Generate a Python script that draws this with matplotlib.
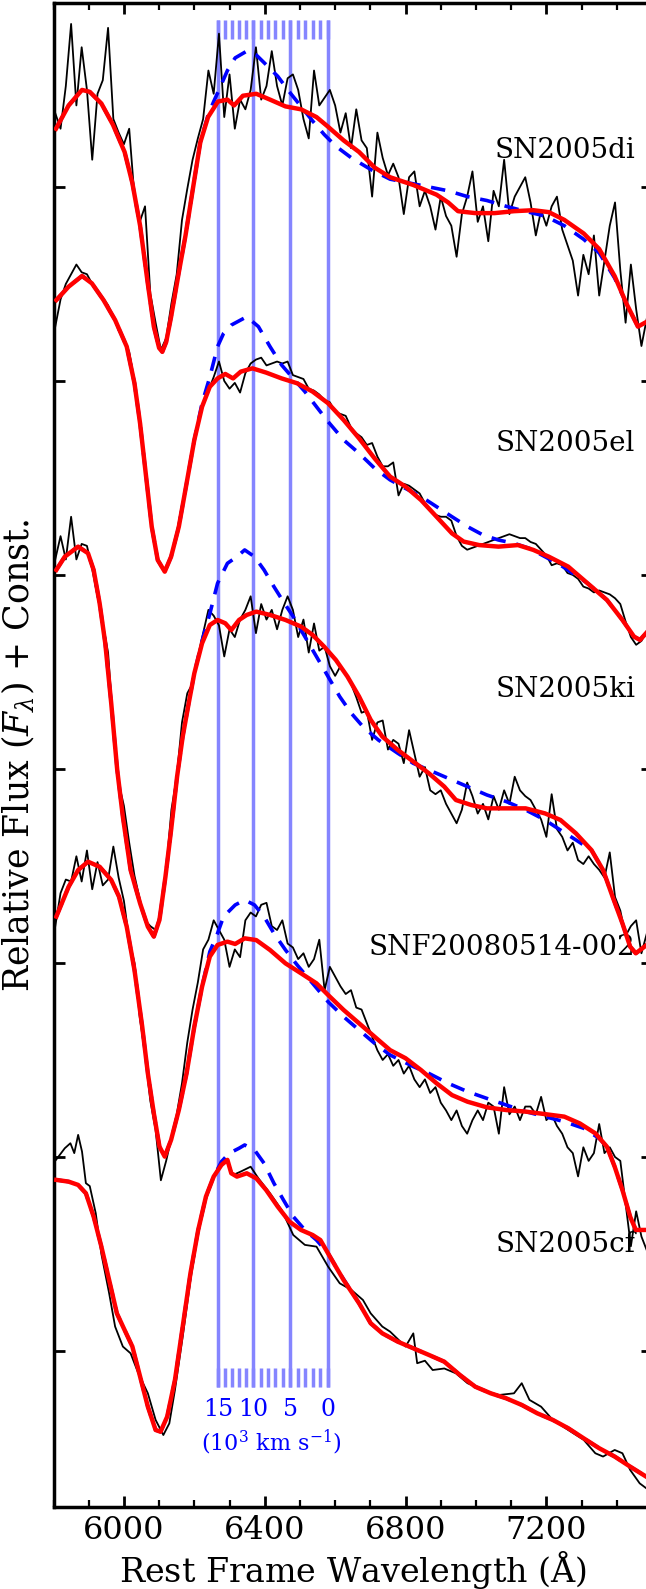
import numpy as np
import matplotlib
matplotlib.use("Agg")
import matplotlib.pyplot as plt
from matplotlib.ticker import MultipleLocator

plt.rcParams['font.family'] = ['DejaVu Serif']
plt.rcParams['mathtext.fontset'] = 'dejavuserif'

names = ["SN2005di", "SN2005el", "SN2005ki", "SNF20080514-002", "SN2005cf"]
name_y = [7.19, 5.68, 4.41, 3.08, 1.55]

# observed spectra (black), sampled every 15 A from 5805 A
obs_wave = np.arange(5805, 7486, 15)
obs1 = [7.38, 7.30, 7.52, 7.84, 7.42, 7.72, 7.50, 7.14, 7.48, 7.55,
        7.82, 7.35, 7.28, 7.22, 7.30, 6.95, 6.82, 6.90, 6.45, 6.30,
        6.16, 6.22, 6.40, 6.55, 6.83, 6.99, 7.14, 7.25, 7.35, 7.60,
        7.48, 7.79, 7.36, 7.58, 7.30, 7.45, 7.40, 7.50, 7.72, 7.45,
        7.52, 7.70, 7.52, 7.42, 7.56, 7.58, 7.50, 7.35, 7.25, 7.60,
        7.42, 7.46, 7.50, 7.42, 7.28, 7.38, 7.20, 7.40, 7.24, 7.20,
        6.95, 7.28, 7.15, 7.06, 7.12, 7.05, 6.86, 7.05, 7.08, 6.90,
        6.98, 6.90, 6.78, 6.95, 6.85, 6.80, 6.64, 6.86, 6.95, 7.08,
        6.82, 6.90, 6.72, 6.98, 6.90, 7.14, 6.86, 6.95, 7.00, 7.05,
        6.92, 6.75, 6.88, 6.80, 6.90, 6.95, 6.78, 6.70, 6.62, 6.44,
        6.65, 6.55, 6.75, 6.44, 6.62, 6.80, 6.92, 6.57, 6.30, 6.60,
        6.37, 6.18, 6.32]
obs2 = [6.28, 6.42, 6.50, 6.55, 6.60, 6.56, 6.55, 6.50, 6.46, 6.43,
        6.39, 6.33, 6.26, 6.22, 6.15, 6.00, 5.76, 5.56, 5.30, 5.12,
        5.04, 5.03, 5.10, 5.22, 5.36, 5.50, 5.66, 5.78, 5.88, 5.95,
        6.02, 6.10, 6.00, 5.96, 5.99, 5.94, 6.04, 6.09, 6.11, 6.12,
        6.08, 6.09, 6.10, 6.09, 6.10, 6.03, 6.02, 6.01, 5.96, 5.95,
        5.93, 5.90, 5.89, 5.84, 5.83, 5.82, 5.76, 5.73, 5.71, 5.67,
        5.68, 5.61, 5.56, 5.56, 5.58, 5.41, 5.47, 5.46, 5.44, 5.42,
        5.37, 5.33, 5.31, 5.30, 5.30, 5.28, 5.20, 5.15, 5.13, 5.14,
        5.15, 5.16, 5.17, 5.18, 5.19, 5.20, 5.21, 5.20, 5.19, 5.19,
        5.17, 5.16, 5.13, 5.10, 5.05, 5.06, 5.05, 5.01, 5.00, 4.98,
        4.94, 4.93, 4.91, 4.92, 4.91, 4.90, 4.88, 4.85, 4.76, 4.68,
        4.64, 4.66, 4.71]
obs3 = [5.08, 5.20, 5.08, 5.30, 5.08, 5.16, 5.15, 5.03, 4.89, 4.75,
        4.60, 4.22, 3.93, 3.81, 3.62, 3.45, 3.33, 3.22, 3.19, 3.17,
        3.27, 3.48, 3.79, 3.96, 4.24, 4.39, 4.44, 4.58, 4.70, 4.82,
        4.79, 4.74, 4.58, 4.72, 4.68, 4.77, 4.82, 4.89, 4.70, 4.85,
        4.77, 4.82, 4.72, 4.82, 4.89, 4.82, 4.68, 4.77, 4.60, 4.75,
        4.61, 4.63, 4.53, 4.48, 4.53, 4.49, 4.44, 4.37, 4.29, 4.30,
        4.15, 4.24, 4.25, 4.10, 4.15, 4.13, 4.03, 4.20, 4.08, 3.96,
        4.01, 3.89, 3.87, 3.89, 3.82, 3.77, 3.72, 3.79, 3.93, 3.86,
        3.77, 3.82, 3.74, 3.86, 3.79, 3.89, 3.82, 3.96, 3.89, 3.86,
        3.84, 3.79, 3.74, 3.65, 3.87, 3.69, 3.65, 3.58, 3.62, 3.53,
        3.51, 3.55, 3.51, 3.48, 3.44, 3.57, 3.34, 3.27, 3.14, 3.19,
        3.22, 3.05, 3.15]
obs4 = [3.19, 3.36, 3.43, 3.42, 3.55, 3.42, 3.58, 3.38, 3.52, 3.40,
        3.43, 3.60, 3.44, 3.32, 3.12, 3.00, 2.72, 2.53, 2.29, 2.14,
        1.88, 1.98, 2.10, 2.22, 2.38, 2.59, 2.76, 2.90, 3.07, 3.12,
        3.22, 3.17, 3.12, 2.98, 3.07, 3.03, 3.22, 3.26, 3.24, 3.30,
        3.31, 3.19, 3.17, 3.22, 3.10, 3.08, 3.02, 3.05, 2.98, 3.02,
        3.12, 2.86, 2.98, 2.93, 2.88, 2.84, 2.86, 2.77, 2.76, 2.69,
        2.62, 2.55, 2.50, 2.53, 2.47, 2.50, 2.43, 2.47, 2.40, 2.36,
        2.40, 2.33, 2.36, 2.28, 2.24, 2.19, 2.24, 2.16, 2.12, 2.19,
        2.24, 2.19, 2.28, 2.26, 2.12, 2.36, 2.22, 2.26, 2.19, 2.26,
        2.26, 2.22, 2.31, 2.19, 2.22, 2.16, 2.12, 2.05, 2.02, 1.90,
        2.05, 1.98, 2.02, 2.17, 2.02, 2.05, 2.00, 1.98, 1.76, 1.54,
        1.72, 1.59, 1.52]
obs5_w = [5807, 5832, 5848, 5859, 5870, 5881, 5892, 5903, 5920, 5936, 5958, 5975, 5997, 6019,
          6041, 6068, 6090, 6112, 6129, 6145, 6167, 6189, 6211, 6233, 6255, 6277, 6294, 6310,
          6332, 6360, 6382, 6415, 6448, 6481, 6514, 6547, 6580, 6613, 6646, 6679, 6701, 6734,
          6756, 6800, 6822, 6833, 6855, 6877, 6910, 6943, 6976, 7020, 7064, 7108, 7130, 7152,
          7185, 7218, 7262, 7306, 7339, 7361, 7394, 7416, 7438, 7465, 7490]
obs5 = [1.985, 2.045, 2.071, 2.02, 2.114, 2.028, 1.865, 1.85, 1.71, 1.50, 1.298, 1.126, 1.023, 0.988,
        0.885, 0.782, 0.645, 0.567, 0.627, 0.80, 1.074, 1.366, 1.607, 1.779, 1.899, 1.976, 1.985, 1.907,
        1.925, 1.95, 1.89, 1.813, 1.727, 1.598, 1.547, 1.538, 1.435, 1.349, 1.315, 1.263, 1.194, 1.126,
        1.10, 1.023, 1.091, 0.937, 0.95, 0.902, 0.91, 0.885, 0.834, 0.799, 0.773, 0.782, 0.834, 0.748,
        0.713, 0.645, 0.593, 0.542, 0.473, 0.456, 0.49, 0.473, 0.387, 0.318, 0.284]

# model with C II (red)
red1_w = [5807, 5843, 5881, 5903, 5936, 5969, 6002, 6024, 6046, 6068, 6085, 6100, 6109, 6120, 6134,
          6156, 6175, 6195, 6217, 6239, 6267, 6294, 6313, 6338, 6376, 6415, 6459, 6503, 6547, 6580,
          6624, 6668, 6712, 6756, 6822, 6888, 6921, 6949, 6998, 7053, 7108, 7163, 7207, 7251, 7306,
          7350, 7394, 7427, 7460, 7490]
red1 = [7.30, 7.42, 7.50, 7.49, 7.43, 7.32, 7.18, 7.02, 6.80, 6.50, 6.28, 6.17, 6.15, 6.20, 6.33,
        6.56, 6.75, 6.98, 7.23, 7.36, 7.44, 7.45, 7.42, 7.47, 7.48, 7.45, 7.415, 7.40, 7.36, 7.31,
        7.24, 7.18, 7.10, 7.05, 7.01, 6.96, 6.92, 6.875, 6.865, 6.865, 6.875, 6.88, 6.87, 6.83, 6.76,
        6.68, 6.54, 6.40, 6.28, 6.31]
red2_w = [5808, 5843, 5881, 5909, 5942, 5975, 6008, 6030, 6046, 6063, 6079, 6096, 6116, 6134, 6156,
          6178, 6200, 6222, 6244, 6266, 6288, 6310, 6332, 6365, 6404, 6448, 6492, 6536, 6580, 6624,
          6668, 6712, 6756, 6800, 6844, 6888, 6932, 6965, 7009, 7064, 7119, 7163, 7207, 7262, 7317,
          7372, 7416, 7449, 7466, 7491]
red2 = [6.417, 6.486, 6.541, 6.503, 6.417, 6.314, 6.177, 5.988, 5.78, 5.507, 5.249, 5.077, 5.017,
        5.094, 5.249, 5.472, 5.696, 5.867, 5.97, 6.013, 6.036, 6.013, 6.048, 6.065, 6.043, 6.013,
        5.988, 5.945, 5.885, 5.799, 5.704, 5.601, 5.507, 5.455, 5.386, 5.30, 5.214, 5.172, 5.154,
        5.146, 5.154, 5.129, 5.094, 5.043, 4.957, 4.871, 4.768, 4.682, 4.665, 4.716]
red3_w = [5808, 5832, 5870, 5898, 5914, 5931, 5947, 5964, 5981, 5997, 6019, 6046, 6068, 6085, 6101,
          6118, 6134, 6151, 6167, 6184, 6200, 6222, 6244, 6266, 6288, 6305, 6327, 6349, 6376, 6415,
          6459, 6503, 6536, 6569, 6602, 6635, 6668, 6701, 6734, 6778, 6822, 6866, 6910, 6943, 6987,
          7031, 7086, 7141, 7196, 7240, 7284, 7328, 7361, 7388, 7416, 7438, 7454, 7491]
red3 = [5.026, 5.094, 5.146, 5.112, 5.026, 4.854, 4.648, 4.338, 3.995, 3.754, 3.479, 3.307, 3.187,
        3.136, 3.222, 3.445, 3.685, 3.96, 4.167, 4.338, 4.493, 4.648, 4.742, 4.768, 4.751, 4.716,
        4.768, 4.794, 4.811, 4.794, 4.768, 4.734, 4.691, 4.63, 4.562, 4.476, 4.373, 4.253, 4.167,
        4.098, 4.038, 3.978, 3.909, 3.84, 3.814, 3.797, 3.797, 3.797, 3.771, 3.737, 3.668, 3.582,
        3.479, 3.342, 3.204, 3.084, 3.05, 3.101]
red4_w = [5808, 5843, 5870, 5898, 5931, 5964, 5986, 6008, 6030, 6052, 6068, 6085, 6101, 6116, 6134,
          6156, 6178, 6200, 6222, 6244, 6266, 6294, 6316, 6343, 6376, 6415, 6459, 6503, 6547, 6580,
          6624, 6668, 6712, 6756, 6800, 6844, 6888, 6932, 6976, 7031, 7086, 7141, 7196, 7251, 7295,
          7339, 7372, 7394, 7416, 7438, 7454, 7491]
red4 = [3.239, 3.393, 3.479, 3.522, 3.496, 3.428, 3.342, 3.187, 2.964, 2.672, 2.431, 2.225, 2.053,
        2.002, 2.088, 2.242, 2.431, 2.672, 2.878, 3.033, 3.093, 3.11, 3.098, 3.127, 3.118, 3.067,
        2.998, 2.947, 2.895, 2.835, 2.758, 2.689, 2.62, 2.551, 2.509, 2.448, 2.38, 2.319, 2.285,
        2.256, 2.242, 2.234, 2.221, 2.208, 2.173, 2.122, 2.053, 1.95, 1.83, 1.692, 1.624, 1.624]
red5_w = [5808, 5843, 5870, 5892, 5914, 5936, 5958, 5980, 6002, 6024, 6046, 6068, 6090, 6104, 6123,
          6145, 6167, 6189, 6211, 6233, 6255, 6277, 6294, 6305, 6321, 6349, 6376, 6404, 6437, 6470,
          6503, 6536, 6558, 6585, 6624, 6668, 6701, 6734, 6778, 6822, 6866, 6910, 6954, 6998, 7042,
          7086, 7130, 7174, 7218, 7262, 7306, 7350, 7394, 7438, 7491]
red5 = [1.882, 1.873, 1.856, 1.813, 1.693, 1.538, 1.366, 1.194, 1.108, 1.023, 0.868, 0.713, 0.593,
        0.584, 0.662, 0.851, 1.126, 1.401, 1.624, 1.796, 1.899, 1.959, 1.985, 1.916, 1.899, 1.916,
        1.890, 1.83, 1.744, 1.667, 1.624, 1.598, 1.572, 1.487, 1.366, 1.246, 1.143, 1.091, 1.048,
        1.014, 0.98, 0.945, 0.877, 0.816, 0.782, 0.756, 0.722, 0.679, 0.645, 0.602, 0.55, 0.499,
        0.456, 0.404, 0.344]

# model without C II (blue dashed)
blue1_w = [5807, 5843, 5881, 5903, 5936, 5969, 6002, 6024, 6046, 6068, 6085, 6100, 6109, 6120, 6134,
           6156, 6175, 6195, 6217, 6239, 6255, 6270, 6294, 6316, 6349, 6376, 6404, 6437, 6470, 6503,
           6536, 6569, 6602, 6646, 6701, 6756, 6866, 6921, 6976, 7031, 7086, 7141, 7196, 7251, 7306,
           7350, 7394, 7427, 7460, 7490]
blue1 = [7.30, 7.42, 7.50, 7.49, 7.43, 7.32, 7.18, 7.02, 6.80, 6.50, 6.28, 6.17, 6.15, 6.20, 6.33,
         6.56, 6.75, 6.98, 7.23, 7.37, 7.44, 7.50, 7.60, 7.665, 7.70, 7.68, 7.63, 7.57, 7.49, 7.415,
         7.34, 7.27, 7.21, 7.15, 7.09, 7.04, 7.00, 6.98, 6.95, 6.93, 6.90, 6.874, 6.85, 6.80, 6.73,
         6.66, 6.53, 6.40, 6.28, 6.31]
blue2_w = [5808, 5843, 5881, 5909, 5942, 5975, 6008, 6030, 6046, 6063, 6079, 6096, 6116, 6134, 6156,
           6178, 6200, 6222, 6244, 6266, 6283, 6305, 6349, 6382, 6415, 6448, 6481, 6514, 6547, 6580,
           6624, 6668, 6712, 6756, 6800, 6844, 6888, 6932, 6976, 7020, 7064, 7108, 7152, 7196, 7240,
           7317, 7372, 7416, 7449, 7466, 7491]
blue2 = [6.417, 6.486, 6.541, 6.503, 6.417, 6.314, 6.177, 5.988, 5.78, 5.507, 5.249, 5.077, 5.017,
         5.094, 5.249, 5.472, 5.696, 5.885, 6.02, 6.177, 6.245, 6.288, 6.331, 6.28, 6.177, 6.082,
         6.013, 5.945, 5.867, 5.79, 5.696, 5.627, 5.55, 5.49, 5.446, 5.404, 5.352, 5.30, 5.249,
         5.206, 5.18, 5.163, 5.137, 5.094, 5.051, 4.957, 4.871, 4.768, 4.682, 4.665, 4.716]
blue3_w = [5808, 5832, 5870, 5898, 5914, 5931, 5947, 5964, 5981, 5997, 6019, 6046, 6068, 6085, 6101,
           6118, 6134, 6151, 6167, 6184, 6200, 6222, 6244, 6266, 6294, 6321, 6343, 6371, 6398, 6426,
           6453, 6481, 6514, 6547, 6580, 6613, 6646, 6679, 6723, 6778, 6822, 6866, 6921, 6976, 7031,
           7086, 7141, 7196, 7240, 7284, 7328, 7361, 7388, 7416, 7438, 7454, 7491]
blue3 = [5.026, 5.094, 5.146, 5.112, 5.026, 4.854, 4.648, 4.338, 3.995, 3.754, 3.479, 3.307, 3.187,
         3.136, 3.222, 3.445, 3.685, 3.96, 4.167, 4.338, 4.493, 4.66, 4.80, 4.957, 5.06, 5.094,
         5.129, 5.094, 5.026, 4.94, 4.862, 4.785, 4.682, 4.579, 4.476, 4.373, 4.287, 4.218, 4.149,
         4.081, 4.029, 3.995, 3.952, 3.909, 3.866, 3.832, 3.789, 3.737, 3.685, 3.634, 3.582, 3.479,
         3.342, 3.204, 3.084, 3.05, 3.101]
blue4_w = [5808, 5843, 5870, 5898, 5931, 5964, 5986, 6008, 6030, 6052, 6068, 6085, 6101, 6116, 6134,
           6156, 6178, 6200, 6222, 6244, 6266, 6283, 6316, 6343, 6371, 6398, 6426, 6459, 6492, 6536,
           6580, 6624, 6668, 6712, 6756, 6822, 6866, 6921, 6976, 7031, 7086, 7141, 7196, 7251, 7306,
           7350, 7372, 7394, 7416, 7438, 7454, 7491]
blue4 = [3.239, 3.393, 3.479, 3.522, 3.496, 3.428, 3.342, 3.187, 2.964, 2.672, 2.431, 2.225, 2.053,
         2.002, 2.088, 2.242, 2.431, 2.672, 2.878, 3.058, 3.153, 3.239, 3.299, 3.325, 3.299, 3.239,
         3.153, 3.067, 2.99, 2.895, 2.80, 2.723, 2.654, 2.586, 2.526, 2.466, 2.431, 2.38, 2.337,
         2.302, 2.268, 2.234, 2.208, 2.182, 2.148, 2.096, 2.053, 1.95, 1.83, 1.692, 1.624, 1.624]
blue5_w = [5808, 5843, 5870, 5892, 5914, 5936, 5958, 5980, 6002, 6024, 6046, 6068, 6090, 6104, 6123,
           6145, 6167, 6189, 6211, 6233, 6255, 6277, 6299, 6327, 6343, 6371, 6398, 6426, 6453, 6481,
           6514, 6547, 6580, 6613, 6668, 6701, 6734, 6778, 6822, 6866, 6910, 6954, 6998, 7042, 7086,
           7130, 7174, 7218, 7262, 7306, 7350, 7394, 7438, 7491]
blue5 = [1.882, 1.873, 1.856, 1.813, 1.693, 1.538, 1.366, 1.194, 1.108, 1.023, 0.868, 0.713, 0.593,
         0.584, 0.662, 0.851, 1.126, 1.401, 1.624, 1.796, 1.899, 1.976, 2.019, 2.045, 2.062, 2.036,
         1.968, 1.865, 1.779, 1.693, 1.624, 1.572, 1.504, 1.401, 1.246, 1.143, 1.091, 1.048, 1.014,
         0.98, 0.945, 0.877, 0.816, 0.782, 0.756, 0.722, 0.679, 0.645, 0.602, 0.55, 0.499, 0.456,
         0.404, 0.344]

# C II 6580 velocity scale (10^3 km/s)
c2_rest = 6580.0
vel_major = [15, 10, 5, 0]
vel_all = list(range(0, 16))

obs_list = [(obs_wave, obs1), (obs_wave, obs2), (obs_wave, obs3), (obs_wave, obs4), (obs5_w, obs5)]
red_list = [(red1_w, red1), (red2_w, red2), (red3_w, red3), (red4_w, red4), (red5_w, red5)]
blue_list = [(blue1_w, blue1), (blue2_w, blue2), (blue3_w, blue3), (blue4_w, blue4), (blue5_w, blue5)]

fig = plt.figure(figsize=(6.46, 15.89), dpi=100)
ax = fig.add_axes([53.5 / 646, 82 / 1589, 598.5 / 646, 1504 / 1589])

ckms = 299792.458
lam_all = c2_rest / (1 + np.array(vel_all) * 1000 / ckms)
lam_major = c2_rest / (1 + np.array(vel_major) * 1000 / ckms)
vcol = '#8585ff'
ax.vlines(lam_major, 0.814, 7.86, color=vcol, lw=2.5, zorder=1)
ax.vlines(lam_all, 7.765, 7.86, color=vcol, lw=2.5, zorder=1)
ax.vlines(lam_all, 0.814, 0.91, color=vcol, lw=2.5, zorder=1)
for v, lm in zip(vel_major, lam_major):
    ax.text(lm, 0.70, str(v), color='blue', ha='center', va='center', fontsize=17)
ax.text(6420, 0.53, r'(10$^3$ km s$^{-1}$)', color='blue', ha='center', va='center', fontsize=16)

for (ow, of), (bw, bf), (rw, rf) in zip(obs_list, blue_list, red_list):
    ax.plot(ow, of, color='black', lw=1.3, zorder=2)
    ax.plot(bw, bf, color='blue', lw=2.6, dashes=(4, 3), zorder=3)
    ax.plot(rw, rf, color='red', lw=3.2, zorder=4, solid_joinstyle='round')

for name, y in zip(names, name_y):
    ax.text(7453, y, name, ha='right', va='center', fontsize=20)

ax.set_xlim(5800, 7500)
ax.set_ylim(0.196, 7.948)
ax.xaxis.set_major_locator(MultipleLocator(400))
ax.xaxis.set_minor_locator(MultipleLocator(100))
ax.set_yticks([1, 2, 3, 4, 5, 6, 7])
ax.set_yticklabels([])
ax.tick_params(which='major', direction='in', length=8, width=2, top=True, right=True,
               labelsize=23, pad=6)
ax.tick_params(which='minor', direction='in', length=5, width=1.6, top=True, right=True)
for s in ax.spines.values():
    s.set_linewidth(2.5)

ax.set_xlabel(r'Rest Frame Wavelength ($\mathrm{\AA}$)', fontsize=24, labelpad=2)
ax.set_ylabel(r'Relative Flux ($F_\lambda$) + Const.', fontsize=25, labelpad=6)

fig.savefig('out.png', dpi=100)
